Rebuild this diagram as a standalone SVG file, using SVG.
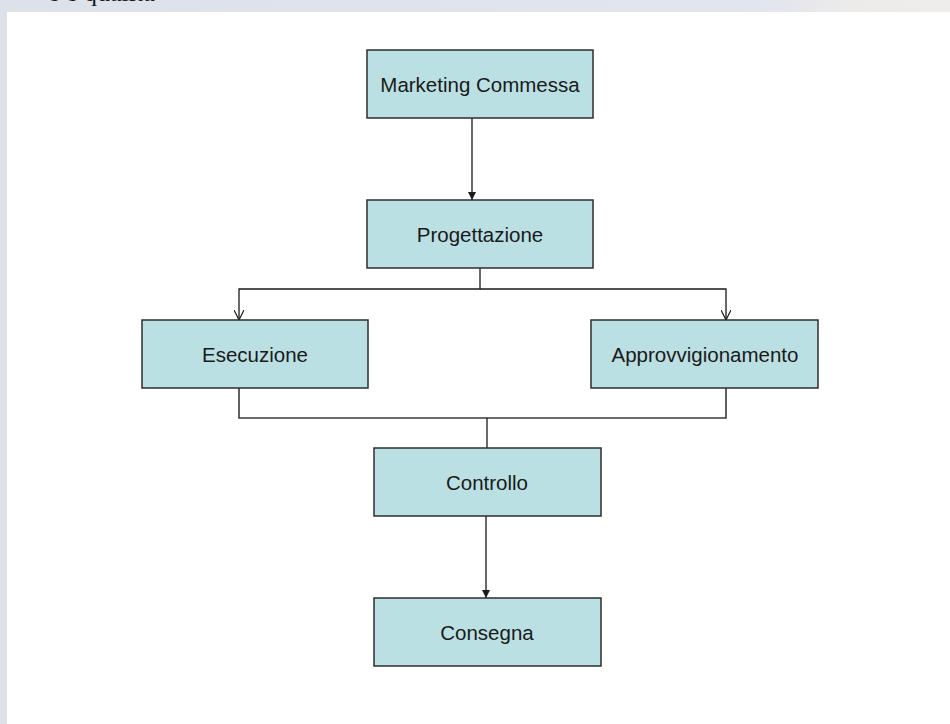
<svg xmlns="http://www.w3.org/2000/svg" width="950" height="724" viewBox="0 0 950 724">
  <defs>
    <style>
      .box { fill: #BBE0E3; stroke: #2E2E2E; stroke-width: 1.5; }
      .lbl { font-family: "Liberation Sans", Arial, sans-serif; font-size: 20.5px; fill: #1A1A1A; text-anchor: middle; }
      .ln { fill: none; stroke: #1A1A1A; stroke-width: 1.3; }
      .ln2 { fill: none; stroke: #3A3A3A; stroke-width: 1.6; }
    </style>
    <linearGradient id="bgtop" x1="0" y1="0" x2="1" y2="0">
      <stop offset="0" stop-color="#DDE1EA"/>
      <stop offset="0.8" stop-color="#E2E5EE"/>
      <stop offset="0.9" stop-color="#EDEBEA"/>
      <stop offset="1" stop-color="#EEEDEC"/>
    </linearGradient>
    <marker id="arrFill" viewBox="0 0 10 10" refX="10" refY="5" markerWidth="8" markerHeight="8" markerUnits="userSpaceOnUse" orient="auto">
      <path d="M0,0 L10,5 L0,10 z" fill="#1A1A1A"/>
    </marker>
    <marker id="arrOpen" viewBox="0 0 10 10" refX="10" refY="5" markerWidth="10" markerHeight="10" markerUnits="userSpaceOnUse" orient="auto">
      <path d="M0,0 L10,5 L0,10" fill="none" stroke="#1A1A1A" stroke-width="1.2"/>
    </marker>
  </defs>

  <!-- background -->
  <rect x="0" y="0" width="950" height="724" fill="url(#bgtop)"/>
  <text x="48" y="1" font-family="'Liberation Serif', 'Times New Roman', serif" font-size="26" fill="#1A1A1A">e e qualità</text>
  <rect x="7" y="12" width="943" height="712" fill="#FFFFFF"/>

  <!-- connectors -->
  <g id="connectors">
    <line class="ln" x1="472" y1="118" x2="472" y2="200" marker-end="url(#arrFill)"/>
    <polyline class="ln" points="480,268 480,289 239,289 239,320" marker-end="url(#arrOpen)"/>
    <polyline class="ln" points="480,289 726,289 726,320" marker-end="url(#arrOpen)"/>
    <polyline class="ln2" points="239,388 239,418 726,418 726,388"/>
    <line class="ln" x1="487" y1="418" x2="487" y2="448"/>
    <line class="ln" x1="486" y1="516" x2="486" y2="598" marker-end="url(#arrFill)"/>
  </g>

  <!-- nodes -->
  <g id="marketing">
    <rect class="box" x="367" y="50" width="226" height="68"/>
    <text class="lbl" x="480" y="91.5">Marketing  Commessa</text>
  </g>
  <g id="progettazione">
    <rect class="box" x="367" y="200" width="226" height="68"/>
    <text class="lbl" x="480" y="241.5">Progettazione</text>
  </g>
  <g id="esecuzione">
    <rect class="box" x="142" y="320" width="226" height="68"/>
    <text class="lbl" x="255" y="361.5">Esecuzione</text>
  </g>
  <g id="approvvigionamento">
    <rect class="box" x="591" y="320" width="227" height="68"/>
    <text class="lbl" x="705" y="361.5">Approvvigionamento</text>
  </g>
  <g id="controllo">
    <rect class="box" x="374" y="448" width="227" height="68"/>
    <text class="lbl" x="487" y="489.5">Controllo</text>
  </g>
  <g id="consegna">
    <rect class="box" x="374" y="598" width="227" height="68"/>
    <text class="lbl" x="487" y="639.5">Consegna</text>
  </g>
</svg>
